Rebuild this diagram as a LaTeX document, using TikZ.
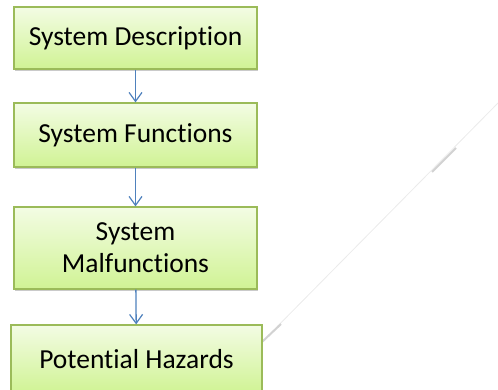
\documentclass[tikz,border=0pt]{standalone}
\usepackage{fontspec}
\setmainfont{Carlito}[Ligatures=NoCommon]
\usetikzlibrary{arrows.meta,shadows}
\definecolor{boxline}{HTML}{9BBB59}
\definecolor{boxtop}{HTML}{F3FCE4}
\definecolor{boxbottom}{HTML}{D0F394}
\definecolor{flow}{HTML}{4F81BD}
\definecolor{faint}{HTML}{EBEBEB}
\definecolor{faintdark}{HTML}{D2D2D2}
\tikzset{
  stage/.style={draw=boxline, line width=1.2pt, top color=boxtop, bottom color=boxbottom,
    inner sep=0pt, align=center, font=\fontsize{27.5}{32}\selectfont,
    drop shadow={shadow xshift=1.2pt, shadow yshift=-1.5pt, opacity=0.35, fill=black!60}},
  flowarrow/.style={draw=flow, line width=1.3pt, -{Straight Barb[length=9pt,width=13pt,line width=1.2pt]}},
  trace/.style={draw=faint, line width=0.8pt},
  tracebold/.style={draw=faintdark, line width=2pt}
}
\begin{document}
\begin{tikzpicture}[x=1pt,y=-1pt]
\useasboundingbox (0,0) rectangle (498,389);
% faint diagonal stroke in the background
\coordinate (d0) at (262,342);
\coordinate (d1) at (498,103);
\coordinate (d2) at (281,324);
\coordinate (d3) at (432,172);
\coordinate (d4) at (456,148);
\draw[trace] (d0) -- (d1);
\draw[tracebold] (d0) -- (d2);
\draw[tracebold] (d3) -- (d4);
% stages of the analysis
\node[stage, minimum width=243pt, minimum height=62pt] (desc) at (135.5,38) {System Description};
\node[stage, minimum width=243pt, minimum height=64pt] (func) at (135.5,135) {System Functions};
\node[stage, minimum width=243pt, minimum height=82pt] (malf) at (135.5,248) {System\\Malfunctions};
\node[stage, minimum width=251pt, minimum height=68pt] (haz) at (136.5,359) {Potential Hazards};
% flow between the stages
\draw[flowarrow] (desc) -- (func);
\draw[flowarrow] (func) -- (malf);
\draw[flowarrow] (malf) -- (haz);
\end{tikzpicture}
\end{document}
